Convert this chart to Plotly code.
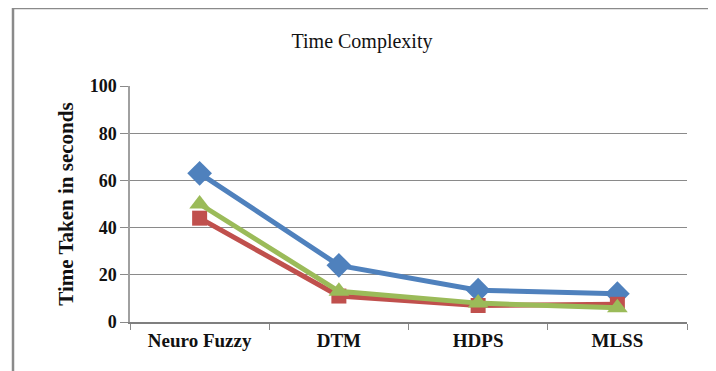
import plotly.graph_objects as go

categories = ["Neuro Fuzzy", "DTM", "HDPS", "MLSS"]
series_blue = [63, 24, 13.5, 12]
series_red = [44, 11, 7, 7.5]
series_green = [50, 13, 8, 6]
y_ticks = [0, 20, 40, 60, 80, 100]

OFF = 8  # default page body margin
W, H = 716 - OFF, 371 - OFF
PL, PR, PT, PB = 130 - OFF, 687 - OFF, 86 - OFF, 322 - OFF

fig = go.Figure()
styles = [
    ("Series 1", series_blue, "#4F81BD", "diamond", 19),
    ("Series 2", series_red, "#C0504D", "square", 15),
    ("Series 3", series_green, "#9BBB59", "triangle-up", 18),
]
for name, vals, col, sym, sz in styles:
    fig.add_trace(go.Scatter(
        x=categories, y=vals, name=name, mode="lines+markers",
        line=dict(color=col, width=5),
        marker=dict(symbol=sym, size=sz, color=col, line=dict(width=0)),
        showlegend=False,
    ))

pw, ph = PR - PL, PB - PT
def px(x):
    return (x - OFF - PL) / pw
def py(y):
    return (PB - (y - OFF)) / ph

fig.add_shape(type="rect", xref="paper", yref="paper",
              x0=px(13), x1=px(711), y0=py(385), y1=py(8),
              line=dict(color="#8a8a8a", width=2.5), layer="below")

fig.update_layout(
    width=W, height=H,
    margin=dict(l=PL, r=W - PR, t=PT, b=H - PB),
    paper_bgcolor="white", plot_bgcolor="white",
    font=dict(family="Liberation Serif, Times New Roman, serif", color="#111111"),
    title=dict(text="Time Complexity", x=(362 - OFF) / W, xanchor="center",
               y=1 - (41 - OFF) / H, yanchor="middle",
               font=dict(size=20, color="#111111")),
)
fig.update_xaxes(
    type="category", range=[-0.5, 3.5],
    showline=True, linecolor="#7f7f7f", linewidth=1.5,
    ticks="outside", tickson="boundaries", ticklen=6, tickcolor="#8a8a8a",
    showgrid=False,
    tickfont=dict(size=19, family="Liberation Serif", color="#111111", weight="bold"),
)
fig.update_yaxes(
    range=[0, 100], tickvals=y_ticks,
    showline=True, linecolor="#a0a0a0", linewidth=1.5,
    ticks="outside", ticklen=8, tickcolor="#8a8a8a",
    showgrid=True, gridcolor="#8a8a8a", gridwidth=1,
    zeroline=False,
    tickfont=dict(size=18, family="Liberation Serif", color="#111111", weight="bold"),
    title=dict(text="Time Taken in seconds", standoff=10,
               font=dict(size=21, family="Liberation Serif", color="#111111", weight="bold")),
)

fig.write_html("out.html")
